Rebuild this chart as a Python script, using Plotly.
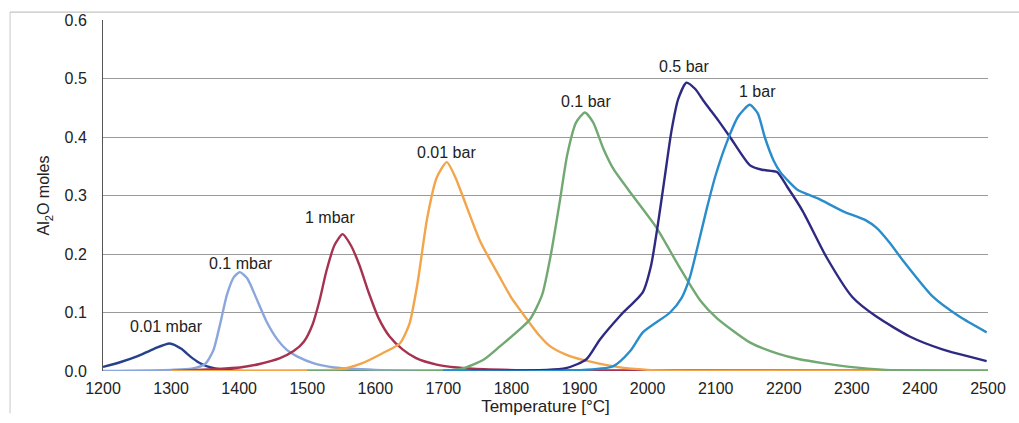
import plotly.graph_objects as go

# Al2O yield vs temperature at different total pressures
labels = ["0.01 mbar", "0.1 mbar", "1 mbar", "0.01 bar", "0.1 bar", "0.5 bar", "1 bar"]
colors = ["#26408c", "#8ba6dc", "#a5324f", "#f2a54a", "#72a872", "#2e2a82", "#2a8dcb"]

t_001mbar = [1200, 1225, 1250, 1275, 1298, 1315, 1328, 1340, 1353, 1380, 1420, 2500]
v_001mbar = [0.007, 0.015, 0.025, 0.038, 0.047, 0.038, 0.025, 0.015, 0.008, 0.002, 0.0, 0.0]

t_01mbar = [1200, 1300, 1330, 1350, 1362, 1372, 1382, 1392, 1401, 1412, 1425, 1440, 1456, 1470, 1485, 1510, 1540, 1600, 2500]
v_01mbar = [0.0, 0.002, 0.004, 0.012, 0.035, 0.08, 0.13, 0.16, 0.169, 0.158, 0.125, 0.085, 0.054, 0.036, 0.025, 0.013, 0.006, 0.002, 0.0]

t_1mbar = [1300, 1401, 1430, 1460, 1480, 1495, 1508, 1518, 1528, 1540, 1552, 1564, 1577, 1590, 1605, 1621, 1640, 1660, 1690, 1720, 1760, 1850, 2500]
v_1mbar = [0.0, 0.006, 0.012, 0.022, 0.034, 0.05, 0.08, 0.12, 0.17, 0.215, 0.234, 0.215, 0.18, 0.135, 0.09, 0.059, 0.037, 0.022, 0.011, 0.006, 0.003, 0.001, 0.0]

t_001bar = [1300, 1548, 1580, 1610, 1636, 1650, 1662, 1676, 1690, 1705, 1718, 1729, 1754, 1783, 1800, 1823, 1840, 1856, 1880, 1905, 1955, 2000, 2100, 2500]
v_001bar = [0.0, 0.003, 0.013, 0.03, 0.047, 0.08, 0.15, 0.26, 0.33, 0.357, 0.33, 0.297, 0.222, 0.16, 0.125, 0.088, 0.062, 0.043, 0.028, 0.019, 0.007, 0.002, 0.0, 0.0]

t_01bar = [1500, 1724, 1760, 1783, 1827, 1845, 1858, 1871, 1882, 1895, 1908, 1920, 1935, 1950, 1978, 2013, 2047, 2077, 2102, 2150, 2190, 2223, 2297, 2350, 2500]
v_01bar = [0.0, 0.003, 0.02, 0.042, 0.088, 0.13, 0.2, 0.29, 0.37, 0.425, 0.442, 0.425, 0.38, 0.345, 0.30, 0.245, 0.177, 0.121, 0.09, 0.049, 0.03, 0.02, 0.007, 0.002, 0.0]

t_05bar = [1700, 1880, 1910, 1930, 1960, 1993, 2005, 2015, 2025, 2035, 2045, 2057, 2070, 2082, 2093, 2104, 2121, 2150, 2168, 2190, 2205, 2228, 2263, 2301, 2336, 2385, 2433, 2498]
v_05bar = [0.0, 0.005, 0.02, 0.054, 0.095, 0.135, 0.18, 0.25, 0.33, 0.41, 0.465, 0.493, 0.482, 0.462, 0.445, 0.428, 0.4, 0.352, 0.344, 0.34, 0.315, 0.273, 0.194, 0.126, 0.093, 0.059, 0.037, 0.017]

t_1bar = [1700, 1949, 1975, 1993, 2033, 2050, 2062, 2075, 2087, 2100, 2116, 2133, 2150, 2162, 2172, 2185, 2195, 2220, 2250, 2287, 2320, 2336, 2355, 2375, 2419, 2458, 2498]
v_1bar = [0.0, 0.008, 0.035, 0.066, 0.10, 0.125, 0.16, 0.22, 0.278, 0.335, 0.39, 0.435, 0.455, 0.44, 0.40, 0.36, 0.34, 0.31, 0.295, 0.273, 0.258, 0.245, 0.22, 0.189, 0.127, 0.093, 0.066]

# label anchor positions (temperature, moles)
label_t = [1294, 1403, 1533, 1704, 1909, 2053, 2162]
label_v = [0.076, 0.184, 0.263, 0.374, 0.460, 0.521, 0.477]

series = [
    (t_001mbar, v_001mbar), (t_01mbar, v_01mbar), (t_1mbar, v_1mbar),
    (t_001bar, v_001bar), (t_01bar, v_01bar), (t_05bar, v_05bar), (t_1bar, v_1bar),
]

fig = go.Figure()
for (t, v), name, c in zip(series, labels, colors):
    fig.add_trace(go.Scatter(
        x=t, y=v, name=name, mode="lines",
        line=dict(color=c, width=2.4, shape="spline", smoothing=0.6),
    ))

for name, lt, lv in zip(labels, label_t, label_v):
    fig.add_annotation(x=lt, y=lv, text=name, showarrow=False,
                       font=dict(size=16, color="#222"), xanchor="center", yanchor="middle")

# light outer frame
fig.add_shape(type="line", xref="paper", yref="paper", x0=-0.105, x1=1.035, y0=1.0225, y1=1.0225,
              line=dict(color="#b5b5b5", width=1))
fig.add_shape(type="line", xref="paper", yref="paper", x0=-0.105, x1=-0.105, y0=1.0225, y1=-0.121,
              line=dict(color="#c8c8c8", width=1))

fig.update_layout(
    width=1019, height=423,
    margin=dict(l=103, r=31, t=16, b=51),
    plot_bgcolor="white", paper_bgcolor="white",
    showlegend=False,
    font=dict(family="Liberation Sans, Arial, sans-serif", size=16, color="#222"),
)
fig.update_xaxes(
    range=[1200, 2500], tickmode="linear", tick0=1200, dtick=100,
    showgrid=False, zeroline=False, showline=False,
    ticks="", tickfont=dict(size=16), ticklabelstandoff=6,
    title=dict(text="Temperature [°C]", font=dict(size=17), standoff=2),
)
fig.update_yaxes(
    range=[0, 0.6], tickmode="linear", tick0=0, dtick=0.1, tickformat=".1f",
    showgrid=True, gridcolor="#9a9a9a", gridwidth=1,
    zeroline=False, showline=True, linecolor="#555", linewidth=1,
    ticks="", tickfont=dict(size=16), ticklabelstandoff=12,
    title=dict(text="Al<sub>2</sub>O moles", font=dict(size=16), standoff=10),
)

fig.write_html("out.html")
